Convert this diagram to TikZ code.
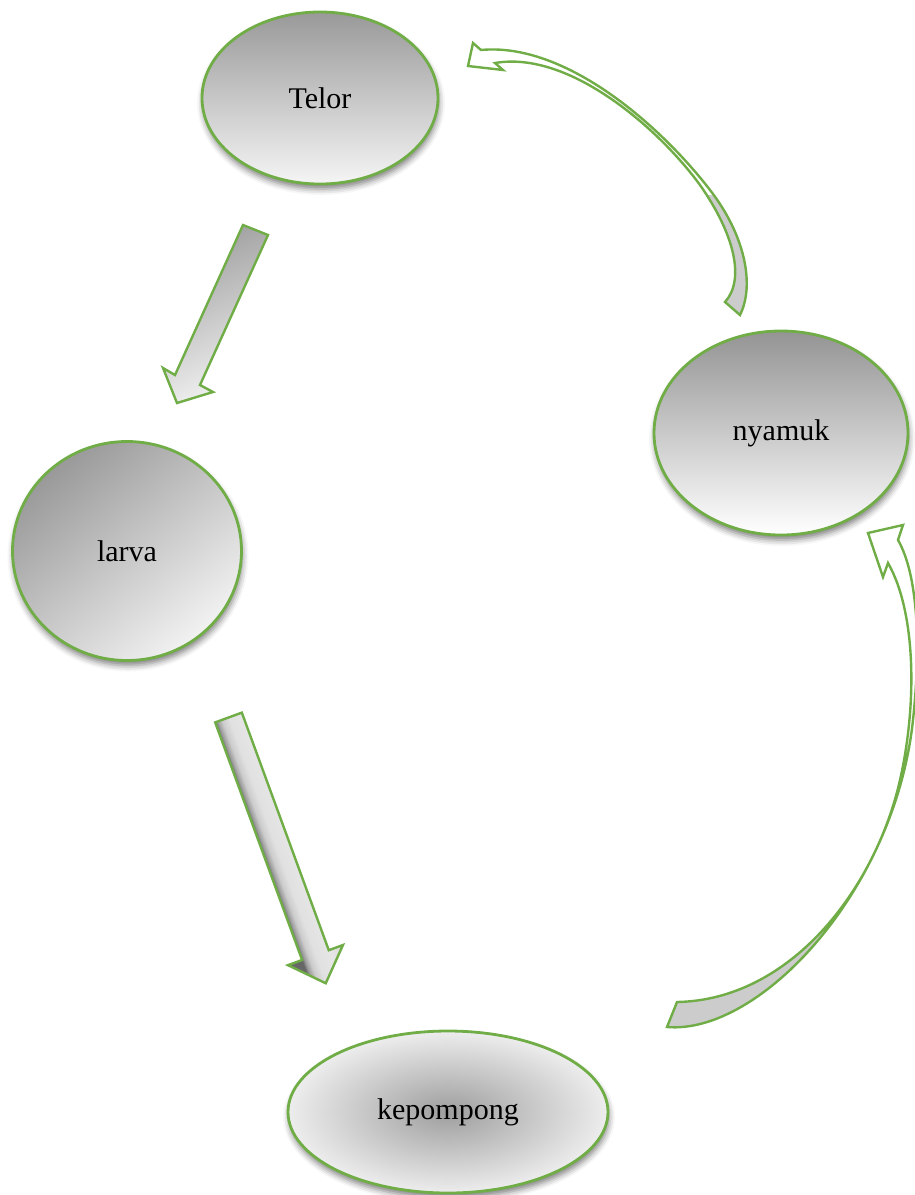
\documentclass[tikz,border=0pt]{standalone}
\usepackage{fontspec}
\setmainfont{Liberation Serif}
\usetikzlibrary{shapes.geometric,shadows.blur}
\definecolor{lgreen}{HTML}{70AD47}
\pgfdeclarehorizontalshading{arrowtwo}{100bp}{color(0bp)=(black!55); color(37.5bp)=(black!60); color(40bp)=(black!38); color(44bp)=(black!20); color(50bp)=(black!12); color(62bp)=(black!10); color(75bp)=(black!14); color(100bp)=(black!14)}
\begin{document}
\begin{tikzpicture}[x=1pt,y=-1pt,
  stage/.style={ellipse, draw=lgreen, line width=2.8pt, inner sep=0pt,
    font=\fontsize{30}{36}\selectfont,
    blur shadow={shadow xshift=1pt, shadow yshift=-5pt, shadow blur radius=6pt, shadow opacity=50}},
  blockarrow/.style={draw=lgreen, line width=2.4pt, line join=miter},
  ribbon/.style={fill=black!20}
]
\useasboundingbox (0,0) rectangle (914,1195);

% stages
\node[stage, minimum width=236pt, minimum height=172pt,
      top color=black!40, bottom color=black!4] (telor) at (320,98) {Telor};
\node[stage, minimum width=254pt, minimum height=204pt,
      top color=black!42, bottom color=white] (nyamuk) at (781,433) {nyamuk};
\node[stage, minimum width=229pt, minimum height=219pt,
      top color=black!40, bottom color=black!5, shading angle=40] (larva) at (127,551) {larva};
\node[stage, minimum width=320pt, minimum height=162pt,
      inner color=black!38, outer color=black!7] (kepompong) at (448,1112) {kepompong};

% arrow Telor -> larva
\path[blockarrow, top color=black!38, bottom color=black!5, shading angle=25]
  (243,225) -- (268,235) -- (200,385) -- (213,392) -- (177,403)
  -- (163,368) -- (175,375) -- cycle;

% arrow larva -> kepompong
\begin{scope}[transform canvas={shift={(228.5,717.5)}, rotate=20.1}]
\path[blockarrow, shading=arrowtwo]
  (-14.2,0) -- (14.2,0) -- (14.2,253) -- (29.3,253) -- (0,283)
  -- (-29.3,253) -- (-14.2,253) -- cycle;
\end{scope}

% curved arrow nyamuk -> Telor
\begin{scope}
\clip (0,195) rectangle (914,1195);
\fill[ribbon] (740,315) .. controls (755,285) and (745,235) .. (710,190)
  .. controls (660,125) and (565,42) .. (481,50)
  -- (473,43) -- (468,66) -- (503,70) -- (495,63)
  .. controls (570,50) and (660,130) .. (700,185)
  .. controls (735,235) and (745,280) .. (725,302) -- cycle;
\end{scope}
\draw[blockarrow] (740,315) .. controls (755,285) and (745,235) .. (710,190)
  .. controls (660,125) and (565,42) .. (481,50)
  -- (473,43) -- (468,66) -- (503,70) -- (495,63)
  .. controls (570,50) and (660,130) .. (700,185)
  .. controls (735,235) and (745,280) .. (725,302) -- cycle;

% curved arrow kepompong -> nyamuk
\begin{scope}
\clip (0,800) rectangle (914,1195);
\fill[ribbon] (667,1027) .. controls (760,1035) and (895,890) .. (913,720)
  .. controls (921,645) and (918,575) .. (898,540)
  -- (903,525) -- (868,533) -- (883,577) -- (888,563)
  .. controls (915,610) and (918,700) .. (900,780)
  .. controls (875,890) and (790,1000) .. (677,1002) -- cycle;
\end{scope}
\draw[blockarrow] (667,1027) .. controls (760,1035) and (895,890) .. (913,720)
  .. controls (921,645) and (918,575) .. (898,540)
  -- (903,525) -- (868,533) -- (883,577) -- (888,563)
  .. controls (915,610) and (918,700) .. (900,780)
  .. controls (875,890) and (790,1000) .. (677,1002) -- cycle;
\end{tikzpicture}
\end{document}
